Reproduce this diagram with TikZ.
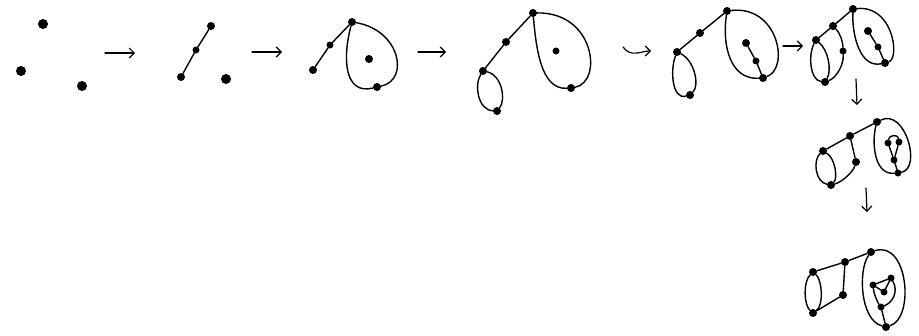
\documentclass[tikz,border=0pt]{standalone}
\usetikzlibrary{arrows.meta}
\begin{document}
\begin{tikzpicture}[x=1pt,y=-1pt,
  bigdot/.style={circle,fill=black,inner sep=0pt,minimum size=10pt},
  mdot/.style={circle,fill=black,inner sep=0pt,minimum size=8pt},
  sdot/.style={circle,fill=black,inner sep=0pt,minimum size=7pt},
  ln/.style={line width=1.4pt,line cap=round,line join=round},
  harrow/.style={line width=1.2pt,line cap=round,-{Straight Barb[length=5pt,width=10pt]}}]
\useasboundingbox (0,0) rectangle (919,335);
\fill[white] (0,0) rectangle (919,335);

% stage 1
\node[bigdot] (a1) at (43,24) {};
\node[bigdot] (a2) at (21,71) {};
\node[bigdot] (a3) at (82,86) {};
\coordinate (r1s) at (105,53); \coordinate (r1e) at (135,53);
\draw[harrow] (r1s) -- (r1e);

% stage 2
\node[mdot] (b1) at (181,77) {};
\node[sdot] (b2) at (196,50) {};
\node[mdot] (b3) at (211,26) {};
\node[bigdot] (b4) at (226,79) {};
\draw[ln] (b1) -- (b2) -- (b3);
\coordinate (r2s) at (252,52); \coordinate (r2e) at (282,52);
\draw[harrow] (r2s) -- (r2e);

% stage 3
\node[mdot] (c1) at (352,22) {};
\node[sdot] (c2) at (330,45) {};
\node[mdot] (c3) at (313,70) {};
\node[mdot] (c4) at (369,59) {};
\node[mdot] (c5) at (377,87) {};
\draw[ln] (c1) -- (c2) -- (c3);
\draw[ln] (c1) .. controls (342,60) and (345,95) .. (c5);
\draw[ln] (c5) .. controls (410,80) and (400,30) .. (c1);
\coordinate (r3s) at (418,52); \coordinate (r3e) at (446,52);
\draw[harrow] (r3s) -- (r3e);

% stage 4
\node[mdot] (d1) at (533,13) {};
\node[mdot] (d2) at (506,42) {};
\node[mdot] (d3) at (483,71) {};
\node[sdot] (d4) at (556,51) {};
\node[mdot] (d5) at (571,88) {};
\node[mdot] (d6) at (497,111) {};
\draw[ln] (d1) -- (d2) -- (d3);
\draw[ln] (d1) .. controls (536,45) and (540,90) .. (d5);
\draw[ln] (d5) .. controls (603,82) and (595,12) .. (d1);
\draw[ln] (d3) .. controls (474,85) and (478,110) .. (d6);
\draw[ln] (d6) .. controls (506,100) and (502,75) .. (d3);
\coordinate (r4s) at (623,47); \coordinate (r4e) at (651,51);
\draw[harrow] (r4s) .. controls (631,58) and (641,51) .. (r4e);

% stage 5
\node[mdot] (e1) at (727,11) {};
\node[mdot] (e2) at (700,33) {};
\node[mdot] (e3) at (677,52) {};
\node[mdot] (e4) at (690,95) {};
\node[mdot] (e5) at (746,43) {};
\node[sdot] (e6) at (756,61) {};
\node[mdot] (e7) at (763,78) {};
\draw[ln] (e1) -- (e2) -- (e3);
\draw[ln] (e5) -- (e6) -- (e7);
\draw[ln] (e1) .. controls (722,45) and (730,80) .. (e7);
\draw[ln] (e7) .. controls (790,68) and (778,5) .. (e1);
\draw[ln] (e3) .. controls (670,70) and (672,100) .. (e4);
\draw[ln] (e4) .. controls (700,85) and (694,60) .. (e3);
\coordinate (r5s) at (783,46); \coordinate (r5e) at (803,46);
\draw[harrow] (r5s) -- (r5e);

% stage 6
\node[mdot] (f1) at (853,9) {};
\node[mdot] (f2) at (833,26) {};
\node[mdot] (f3) at (816,40) {};
\node[sdot] (f4) at (843,51) {};
\node[mdot] (f5) at (825,82) {};
\node[mdot] (f6) at (868,31) {};
\node[sdot] (f7) at (878,47) {};
\node[mdot] (f8) at (885,63) {};
\draw[ln] (f1) -- (f2) -- (f3);
\draw[ln] (f6) -- (f7) -- (f8);
\draw[ln] (f2) .. controls (840,33) and (843,42) .. (f4);
\draw[ln] (f4) .. controls (844,65) and (836,78) .. (f5);
\draw[ln] (f3) .. controls (808,55) and (810,80) .. (f5);
\draw[ln] (f3) .. controls (828,50) and (832,70) .. (f5);
\draw[ln] (f1) .. controls (852,35) and (860,68) .. (f8);
\draw[ln] (f8) .. controls (900,58) and (893,5) .. (f1);
\coordinate (d1s) at (856,79); \coordinate (d1e) at (857,105);
\draw[harrow] (d1s) -- (d1e);

% stage 7
\node[mdot] (g1) at (877,122) {};
\node[mdot] (g2) at (850,136) {};
\node[mdot] (g3) at (823,151) {};
\node[mdot] (g4) at (856,162) {};
\node[mdot] (g5) at (831,185) {};
\node[sdot] (g6) at (888,143) {};
\node[sdot] (g7) at (899,142) {};
\node[sdot] (g8) at (894,160) {};
\node[sdot] (g9) at (898,173) {};
\draw[ln] (g1) -- (g2) -- (g3);
\draw[ln] (g2) -- (g4);
\draw[ln] (g4) .. controls (853,172) and (842,182) .. (g5);
\draw[ln] (g3) .. controls (813,160) and (815,182) .. (g5);
\draw[ln] (g3) .. controls (835,158) and (838,178) .. (g5);
\draw[ln] (g1) .. controls (872,140) and (873,175) .. (g9);
\draw[ln] (g9) .. controls (922,168) and (905,108) .. (g1);
\draw[ln] (g6) .. controls (889,135) and (898,134) .. (g7);
\draw[ln] (g6) -- (g8) -- (g7);
\draw[ln] (g8) -- (g9);
\coordinate (d2s) at (866,188); \coordinate (d2e) at (867,212);
\draw[harrow] (d2s) -- (d2e);

% stage 8
\node[mdot] (h1) at (871,252) {};
\node[mdot] (h2) at (845,262) {};
\node[mdot] (h3) at (813,272) {};
\node[mdot] (h4) at (843,295) {};
\node[mdot] (h5) at (813,313) {};
\node[sdot] (h6) at (873,285) {};
\node[sdot] (h7) at (891,278) {};
\node[sdot] (h8) at (884,292) {};
\node[sdot] (h9) at (881,307) {};
\node[mdot] (h10) at (886,327) {};
\draw[ln] (h3) -- (h2) -- (h1);
\draw[ln] (h2) -- (h4) -- (h5);
\draw[ln] (h3) .. controls (803,282) and (804,305) .. (h5);
\draw[ln] (h3) .. controls (822,280) and (824,305) .. (h5);
\draw[ln] (h1) .. controls (858,270) and (860,320) .. (h10);
\draw[ln] (h10) .. controls (915,318) and (908,240) .. (h1);
\draw[ln] (h6) -- (h7);
\draw[ln] (h7) .. controls (899,292) and (892,303) .. (h9);
\draw[ln] (h6) .. controls (874,295) and (878,303) .. (h9);
\draw[ln] (h6) -- (h8) -- (h7);
\draw[ln] (h9) -- (h10);
\end{tikzpicture}
\end{document}
